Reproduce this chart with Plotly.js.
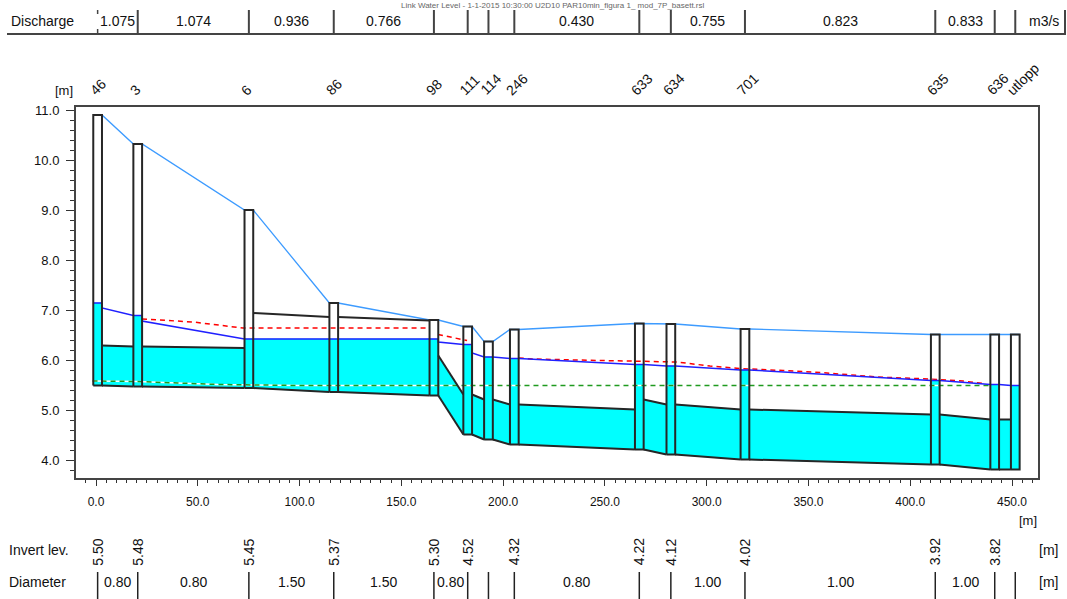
<!DOCTYPE html>
<html><head><meta charset="utf-8">
<script src="https://cdn.plot.ly/plotly-3.0.1.min.js"></script>
<style>html,body{margin:0;padding:0;background:#fff;}#chart{width:1067px;height:599px;}</style>
</head><body><div id="chart"></div>
<script>
// ---- data ----
const nodeNames = ['46','3','6','86','98','111','114','246','633','634','701','635','636','utlopp'];
const chainage = [0.8,20.5,75.1,116.8,166.0,182.6,192.8,205.5,266.9,282.4,318.8,412.3,441.5,451.6];
const groundLevel = [10.91,10.33,9.01,7.15,6.81,6.68,6.38,6.62,6.74,6.73,6.63,6.52,6.52,6.52];
const bottomLevel = [5.50,5.48,5.45,5.37,5.30,4.52,4.42,4.32,4.22,4.12,4.02,3.92,3.82,3.82];
const nodeWaterLevel = [7.15,6.90,6.43,6.43,6.43,6.32,6.07,6.04,5.92,5.89,5.81,5.60,5.52,5.50];
const invertLabels = ['5.50','5.48','5.45','5.37','5.30','4.52','','4.32','4.22','4.12','4.02','3.92','3.82',''];

const pipeInvUp = [5.50,5.48,5.45,5.37,5.30,4.52,4.42,4.32,4.22,4.12,4.02,3.92,3.82];
const pipeInvDn = [5.48,5.45,5.37,5.30,4.52,4.42,4.32,4.22,4.12,4.02,3.92,3.82,3.82];
const pipeDiam  = [0.80,0.80,1.50,1.50,0.80,0.80,0.80,0.80,1.00,1.00,1.00,1.00,1.00];
const pipeWlUp  = [7.05,6.79,6.43,6.43,6.37,6.15,6.07,6.04,5.92,5.89,5.81,5.60,5.52];
const pipeWlDn  = [6.90,6.43,6.43,6.43,6.32,6.07,6.04,5.92,5.89,5.81,5.60,5.52,5.50];
const dischargeLabels = ['1.075','1.074','0.936','0.766','','','','0.430','','0.755','0.823','0.833',''];
const diameterLabels  = ['0.80','0.80','1.50','1.50','0.80','','','0.80','','1.00','1.00','1.00',''];

const maxWlX = [22.6,47.7,72.2,164.1,null,168.0,182.3,null,207.7,214.7,247.6,285.4,301.6,316.4,337.5,359.1,383.7,409.7,425.9,435.8];
const maxWlY = [6.83,6.77,6.65,6.65,null,6.52,6.40,null,6.05,6.03,6.00,5.97,5.89,5.84,5.80,5.75,5.67,5.63,5.59,5.54];
const minWlX = [-1.7,20,40,60,100,439.2];
const minWlY = [5.59,5.58,5.55,5.52,5.50,5.50];

const titleText = 'Link Water Level - 1-1-2015 10:30:00 U2D10 PAR10min_figura 1_ mod_7P_basett.rsl';

// ---- style ----
const MH = 2.14;               // manhole half width (drawing)
const CYAN = '#00ffff', INK = '#262626';
const n = chainage.length;
const traces = [];
const FONT = 'Liberation Sans, Arial, sans-serif';
const TXT = '#111';

function poly(xs, ys){
  traces.push({x:xs,y:ys,type:'scatter',mode:'lines',fill:'toself',fillcolor:CYAN,
    line:{width:0.6,color:CYAN},hoverinfo:'skip',showlegend:false});
}
// water in pipes
for(let i=0;i<n-1;i++){
  const xu = chainage[i]+MH, xd = chainage[i+1]-MH;
  const cu = pipeInvUp[i]+pipeDiam[i], cd = pipeInvDn[i]+pipeDiam[i];
  const xs=[xu,xd], ys=[pipeInvUp[i],pipeInvDn[i]];
  xs.push(xd); ys.push(Math.min(cd,pipeWlDn[i]));
  const du = pipeWlUp[i]-cu, dd = pipeWlDn[i]-cd;
  if(du*dd<0){ const t = du/(du-dd); xs.push(xu+t*(xd-xu)); ys.push(cu+t*(cd-cu)); }
  xs.push(xu); ys.push(Math.min(cu,pipeWlUp[i]));
  poly(xs,ys);
}
// water in manholes
for(let i=0;i<n;i++){
  const a=chainage[i]-MH, b=chainage[i]+MH;
  poly([a,b,b,a],[bottomLevel[i],bottomLevel[i],nodeWaterLevel[i],nodeWaterLevel[i]]);
}
// min water level (green dashed, white gaps)
traces.push({x:minWlX,y:minWlY,type:'scatter',mode:'lines',line:{color:'#ffffff',width:1.5},hoverinfo:'skip',showlegend:false});
traces.push({x:minWlX,y:minWlY,type:'scatter',mode:'lines',line:{color:'#1f9a1f',width:1.5,dash:'5px,4px'},hoverinfo:'skip',showlegend:false});
// max water level (red dashed)
traces.push({x:maxWlX,y:maxWlY,type:'scatter',mode:'lines',connectgaps:false,line:{color:'#ff0000',width:1.5,dash:'5px,4px'},hoverinfo:'skip',showlegend:false});
// water level (blue)
const wx=[], wy=[];
for(let i=0;i<n;i++){
  wx.push(chainage[i]-MH, chainage[i]+MH); wy.push(nodeWaterLevel[i], nodeWaterLevel[i]);
  if(i<n-1){ wx.push(chainage[i]+MH, chainage[i+1]-MH); wy.push(pipeWlUp[i], pipeWlDn[i]); }
}
traces.push({x:wx,y:wy,type:'scatter',mode:'lines',line:{color:'#2020ff',width:1.5},hoverinfo:'skip',showlegend:false});
// ground level (light blue)
const gx=[], gy=[];
for(let i=0;i<n;i++){ gx.push(chainage[i]-MH, chainage[i]+MH); gy.push(groundLevel[i], groundLevel[i]); }
traces.push({x:gx,y:gy,type:'scatter',mode:'lines',line:{color:'#3d9bff',width:1.3},hoverinfo:'skip',showlegend:false});
// pipes (invert and crown)
const px=[], py=[];
for(let i=0;i<n-1;i++){
  const xu=chainage[i]+MH, xd=chainage[i+1]-MH;
  px.push(xu,xd,null, xu,xd,null);
  py.push(pipeInvUp[i],pipeInvDn[i],null, pipeInvUp[i]+pipeDiam[i],pipeInvDn[i]+pipeDiam[i],null);
}
traces.push({x:px,y:py,type:'scatter',mode:'lines',connectgaps:false,line:{color:INK,width:2},hoverinfo:'skip',showlegend:false});
// manholes
const mx=[], my=[];
for(let i=0;i<n;i++){
  const a=chainage[i]-MH, b=chainage[i]+MH;
  mx.push(a,b,b,a,a,null); my.push(bottomLevel[i],bottomLevel[i],groundLevel[i],groundLevel[i],bottomLevel[i],null);
}
traces.push({x:mx,y:my,type:'scatter',mode:'lines',connectgaps:false,line:{color:INK,width:2},hoverinfo:'skip',showlegend:false});

// ---- layout helpers (pixel -> paper) ----
const L=76, R=1038, T=107, B=478;
const yp = p => (B-p)/(B-T);
const xp = p => (p-L)/(R-L);
const X0 = 96, SC = 2.0356;   // axis calibration: pixel of 0 m, pixels per m

const shapes=[], ann=[];
const lineCol='#444';
function txt(o){ o.showarrow=false; o.font=Object.assign({size:14,family:FONT,color:TXT}, o.font||{}); ann.push(o); }
// discharge table
shapes.push({type:'line',xref:'paper',yref:'paper',x0:xp(7),x1:xp(1066),y0:yp(34),y1:yp(34),line:{color:lineCol,width:2}});
for(let i=0;i<n;i++){
  if(i===0){
    shapes.push({type:'line',xref:'x',yref:'paper',x0:chainage[i],x1:chainage[i],y0:yp(10),y1:yp(14),line:{color:lineCol,width:1.5}});
    shapes.push({type:'line',xref:'x',yref:'paper',x0:chainage[i],x1:chainage[i],y0:yp(29),y1:yp(34),line:{color:lineCol,width:1.5}});
  } else {
    shapes.push({type:'line',xref:'x',yref:'paper',x0:chainage[i],x1:chainage[i],y0:yp(10),y1:yp(34),line:{color:lineCol,width:2}});
  }
}
shapes.push({type:'line',xref:'paper',yref:'paper',x0:xp(1065),x1:xp(1065),y0:yp(10),y1:yp(34),line:{color:lineCol,width:2}});
txt({xref:'paper',yref:'paper',x:xp(9),y:yp(21),xanchor:'left',yanchor:'middle',text:'Discharge'});
txt({xref:'paper',yref:'paper',x:xp(1044),y:yp(21),xanchor:'center',yanchor:'middle',text:'m3/s'});
for(let i=0;i<n-1;i++){
  if(dischargeLabels[i]) txt({xref:'x',yref:'paper',x:(chainage[i]+chainage[i+1])/2,y:yp(21),xanchor:'center',yanchor:'middle',text:dischargeLabels[i]});
}
// title (small, at the very top)
txt({xref:'paper',yref:'paper',x:xp(553),y:yp(0),xanchor:'center',yanchor:'top',borderpad:0,text:titleText,font:{size:8,color:'#666'}});
// node labels
for(let i=0;i<n;i++){
  txt({xref:'x',yref:'paper',x:chainage[i],y:yp(101),xanchor:'left',yanchor:'bottom',xshift:-14,textangle:-45,text:nodeNames[i]});
}
txt({xref:'paper',yref:'paper',x:xp(75),y:yp(91),xanchor:'right',yanchor:'middle',text:'[m]',font:{size:13}});
txt({xref:'paper',yref:'paper',x:xp(1028),y:yp(520),xanchor:'center',yanchor:'middle',text:'[m]',font:{size:13}});
// invert level row
txt({xref:'paper',yref:'paper',x:xp(7),y:yp(550),xanchor:'left',yanchor:'middle',text:'Invert lev.'});
txt({xref:'paper',yref:'paper',x:xp(1048),y:yp(550),xanchor:'center',yanchor:'middle',text:'[m]'});
for(let i=0;i<n;i++){
  if(invertLabels[i]) txt({xref:'x',yref:'paper',x:chainage[i],y:yp(552),xanchor:'center',yanchor:'middle',textangle:-90,text:invertLabels[i]});
}
// diameter row
txt({xref:'paper',yref:'paper',x:xp(7),y:yp(582),xanchor:'left',yanchor:'middle',text:'Diameter'});
txt({xref:'paper',yref:'paper',x:xp(1048),y:yp(582),xanchor:'center',yanchor:'middle',text:'[m]'});
for(let i=0;i<n;i++){
  shapes.push({type:'line',xref:'x',yref:'paper',x0:chainage[i],x1:chainage[i],y0:yp(572),y1:yp(600),line:{color:'#222',width:1.5}});
}
for(let i=0;i<n-1;i++){
  if(diameterLabels[i]) txt({xref:'x',yref:'paper',x:(chainage[i]+chainage[i+1])/2,y:yp(582),xanchor:'center',yanchor:'middle',text:diameterLabels[i]});
}

const layout = {
  width:1067, height:599,
  margin:{l:L, r:1067-R, t:T, b:599-B},
  paper_bgcolor:'#ffffff', plot_bgcolor:'#ffffff', showlegend:false,
  font:{family:FONT,size:12,color:TXT},
  xaxis:{range:[(L-X0)/SC,(R-X0)/SC],tickmode:'linear',tick0:0,dtick:50,tickformat:'.1f',
    ticks:'outside',ticklen:6,tickwidth:1,tickcolor:'#333',ticklabelstandoff:6,
    minor:{dtick:5,ticks:'outside',ticklen:3,tickwidth:1,tickcolor:'#333'},
    showgrid:false,zeroline:false,showline:true,mirror:true,linecolor:'#444',linewidth:2,
    tickfont:{size:12,family:FONT,color:TXT},fixedrange:true},
  yaxis:{range:[3.65,11.07],tickmode:'linear',tick0:0,dtick:1,tickformat:'.1f',
    ticks:'outside',ticklen:8,tickwidth:1,tickcolor:'#333',ticklabelstandoff:4,
    minor:{dtick:0.2,ticks:'outside',ticklen:4,tickwidth:1,tickcolor:'#333'},
    showgrid:false,zeroline:false,showline:true,mirror:true,linecolor:'#444',linewidth:2,
    tickfont:{size:13,family:FONT,color:TXT},fixedrange:true},
  shapes:shapes, annotations:ann
};
Plotly.newPlot('chart', traces, layout, {displayModeBar:false, staticPlot:true});
</script>
</body></html>
